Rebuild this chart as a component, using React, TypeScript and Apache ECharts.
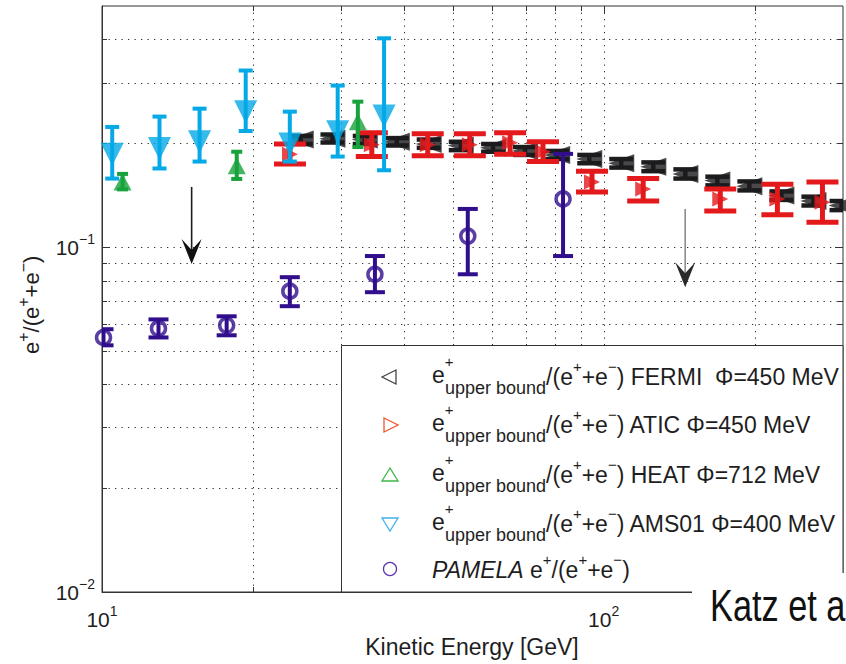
import React, { useEffect, useRef } from 'react';
import * as echarts from 'echarts';

const FONT = "'Liberation Sans', Arial, Helvetica, sans-serif";

// FERMI upper bound, Φ = 450 MeV
const fermiE = [24.9, 28.8, 33.4, 38.7, 44.8, 51.9, 60.2, 69.7, 80.8, 93.6, 108.4, 125.6, 145.5, 168.5, 195.2, 226.1, 261.9, 298];
const fermiR = [0.205, 0.206, 0.205, 0.202, 0.199, 0.197, 0.194, 0.19, 0.185, 0.18, 0.175, 0.171, 0.163, 0.156, 0.15, 0.141, 0.136, 0.132];
const fermiLo = [0.199, 0.201, 0.199, 0.197, 0.194, 0.191, 0.189, 0.185, 0.18, 0.175, 0.17, 0.166, 0.158, 0.151, 0.146, 0.137, 0.132, 0.128];
const fermiHi = [0.21, 0.212, 0.21, 0.207, 0.205, 0.202, 0.199, 0.195, 0.19, 0.185, 0.18, 0.176, 0.168, 0.16, 0.155, 0.145, 0.14, 0.136];

// ATIC upper bound, Φ = 450 MeV
const aticE = [23.7, 34.5, 44.6, 54.1, 65.1, 75.7, 94.8, 119.9, 170.8, 222, 273];
const aticR = [0.186, 0.198, 0.198, 0.198, 0.2006, 0.189, 0.1545, 0.1474, 0.1379, 0.1379, 0.135];
const aticLo = [0.174, 0.183, 0.184, 0.184, 0.186, 0.177, 0.1445, 0.136, 0.1273, 0.124, 0.118];
const aticHi = [0.199, 0.2145, 0.213, 0.213, 0.2145, 0.202, 0.166, 0.158, 0.1474, 0.152, 0.1545];

// HEAT upper bound, Φ = 712 MeV
const heatE = [10.99, 18.56, 32.36];
const heatR = [0.1545, 0.172, 0.231];
const heatLo = [0.147, 0.1576, 0.195];
const heatHi = [0.163, 0.189, 0.264];

// AMS01 upper bound, Φ = 400 MeV
const amsE = [10.48, 13.02, 15.65, 19.34, 23.68, 29.5, 36.5];
const amsR = [0.186, 0.193, 0.202, 0.247, 0.199, 0.216, 0.24];
const amsLo = [0.158, 0.169, 0.177, 0.217, 0.177, 0.183, 0.167];
const amsHi = [0.223, 0.239, 0.252, 0.325, 0.247, 0.294, 0.403];

// PAMELA e+/(e+ + e-)
const pamE = [10.07, 12.96, 17.72, 23.68, 35.0, 53.6, 83.0];
const pamR = [0.0547, 0.0581, 0.0593, 0.0745, 0.0834, 0.1076, 0.1379];
const pamLo = [0.0519, 0.0547, 0.0555, 0.0674, 0.074, 0.0834, 0.0942];
const pamHi = [0.0578, 0.0617, 0.063, 0.0818, 0.0942, 0.129, 0.1863];

// downward arrows (energy, start ratio, tip ratio)
const arrowE = [15.09, 145.4];
const arrowFrom = [0.1494, 0.129];
const arrowTo = [0.0893, 0.0765];
const arrowLineColor = ['#1e1e1e', '#8c8c8c'];
const arrowHeadColor = ['#111111', '#2a2a2a'];

// grid lines at minor decades
const gridX = [20, 30, 40, 50, 60, 70, 80, 90, 100, 200];
const gridY = [0.02, 0.03, 0.04, 0.05, 0.06, 0.07, 0.08, 0.09, 0.1, 0.2, 0.3, 0.4];
const majorX = [100];
const majorY = [0.1];

const legendNames = ['FERMI  Φ=450 MeV', 'ATIC Φ=450 MeV', 'HEAT Φ=712 MeV', 'AMS01 Φ=400 MeV'];

const C_FERMI = '#1c1c1e';
const C_ATIC = '#e3191c';
const C_HEAT = '#18a23c';
const C_AMS = '#04a9e6';
const C_PAM = '#310e8c';

const measureCtx = document.createElement('canvas').getContext('2d') as CanvasRenderingContext2D;
function measure(t: string, size: number, italic?: boolean) {
  measureCtx.font = `${italic ? 'italic ' : ''}${size}px ${FONT}`;
  return measureCtx.measureText(t).width;
}

type Seg = { t: string; size: number; dy?: number; italic?: boolean; at?: number };

// lays out a line of text pieces (with raised / lowered pieces) from x0 along baseline `base`
function textRun(segs: Seg[], x0: number, base: number, fill: string, z = 12) {
  const out: any[] = [];
  let x = x0;
  for (const s of segs) {
    const sx = s.at !== undefined ? x0 + s.at : x;
    const w = measure(s.t, s.size, s.italic);
    out.push({
      type: 'text',
      z,
      silent: true,
      style: {
        text: s.t,
        x: sx,
        y: base + (s.dy || 0) - 0.35 * s.size,
        fontSize: s.size,
        fontFamily: FONT,
        fontStyle: s.italic ? 'italic' : 'normal',
        fill,
        align: 'left',
        verticalAlign: 'middle',
      },
    });
    x = Math.max(x, sx + w);
  }
  return out;
}

function errorBars(name: string, E: number[], lo: number[], hi: number[], color: string, capW: number, lw: number, z: number) {
  return {
    type: 'custom',
    name: name + ' err',
    z,
    silent: true,
    clip: true,
    data: E.map((e, i) => [e, lo[i], hi[i]]),
    encode: { x: 0, y: [1, 2] },
    renderItem: (_p: any, api: any) => {
      const x = api.value(0);
      const a = api.coord([x, api.value(2)]);
      const b = api.coord([x, api.value(1)]);
      const style = { stroke: color, lineWidth: lw, fill: null };
      return {
        type: 'group',
        children: [
          { type: 'line', shape: { x1: a[0], y1: a[1], x2: b[0], y2: b[1] }, style },
          { type: 'line', shape: { x1: a[0] - capW / 2, y1: a[1], x2: a[0] + capW / 2, y2: a[1] }, style },
          { type: 'line', shape: { x1: b[0] - capW / 2, y1: b[1], x2: b[0] + capW / 2, y2: b[1] }, style },
        ],
      };
    },
  };
}

function markers(name: string, E: number[], R: number[], extra: any, z: number) {
  return {
    type: 'scatter',
    name,
    z,
    silent: true,
    data: E.map((e, i) => [e, R[i]]),
    ...extra,
  };
}

function buildOption() {
  const graphics: any[] = [];

  // legend box
  graphics.push({
    type: 'rect', z: 10, silent: true,
    shape: { x: 341.5, y: 345.5, width: 501.5, height: 246.5 },
    style: { fill: '#ffffff', stroke: '#333333', lineWidth: 1 },
  });
  const rows = [377, 425, 475, 524, 571];
  const symCols = ['#444444', '#ee5532', '#3cb54a', '#3fb2ea', '#5e33b4'];
  const sx = 390;
  graphics.push({ type: 'polygon', z: 11, silent: true, shape: { points: [[382, rows[0]], [396, rows[0] - 7], [396, rows[0] + 7]] }, style: { fill: 'none', stroke: symCols[0], lineWidth: 1.3 } });
  graphics.push({ type: 'polygon', z: 11, silent: true, shape: { points: [[384, rows[1] - 7], [384, rows[1] + 7], [398, rows[1]]] }, style: { fill: 'none', stroke: symCols[1], lineWidth: 1.3 } });
  graphics.push({ type: 'polygon', z: 11, silent: true, shape: { points: [[sx, rows[2] - 7], [sx - 8, rows[2] + 6], [sx + 8, rows[2] + 6]] }, style: { fill: 'none', stroke: symCols[2], lineWidth: 1.3 } });
  graphics.push({ type: 'polygon', z: 11, silent: true, shape: { points: [[sx - 8, rows[3] - 6], [sx + 8, rows[3] - 6], [sx, rows[3] + 7]] }, style: { fill: 'none', stroke: symCols[3], lineWidth: 1.3 } });
  graphics.push({ type: 'circle', z: 11, silent: true, shape: { cx: sx, cy: rows[4] - 2, r: 6.5 }, style: { fill: 'none', stroke: symCols[4], lineWidth: 1.3 } });

  const txt = '#1e1e1e';
  legendNames.forEach((nm, i) => {
    const base = rows[i] + 8;
    graphics.push(
      ...textRun(
        [
          { t: 'e', size: 23, dy: -2 },
          { t: '+', size: 15, dy: -18 },
          { t: 'upper bound', size: 18, dy: 9, at: 13 },
          { t: '/(e', size: 23 },
          { t: '+', size: 15, dy: -13 },
          { t: '+e', size: 23 },
          { t: '−', size: 15, dy: -13 },
          { t: ') ' + nm, size: 23 },
        ],
        432,
        base,
        txt,
      ),
    );
  });
  graphics.push(
    ...textRun(
      [
        { t: 'PAMELA', size: 23, italic: true },
        { t: ' e', size: 23 },
        { t: '+', size: 15, dy: -13 },
        { t: '/(e', size: 23 },
        { t: '+', size: 15, dy: -13 },
        { t: '+e', size: 23 },
        { t: '−', size: 15, dy: -13 },
        { t: ')', size: 23 },
      ],
      432,
      rows[4] + 7,
      txt,
    ),
  );

  // y axis title, rotated
  graphics.push({
    type: 'group',
    x: 39,
    y: 354,
    rotation: Math.PI / 2,
    z: 12,
    children: textRun(
      [
        { t: 'e', size: 22 },
        { t: '+', size: 16, dy: -10 },
        { t: '/(e', size: 22 },
        { t: '+', size: 16, dy: -10 },
        { t: '+e', size: 22 },
        { t: '−', size: 16, dy: -10 },
        { t: ')', size: 22 },
      ],
      0,
      0,
      txt,
    ),
  });

  // x axis title
  graphics.push({
    type: 'text', z: 12, silent: true,
    style: { text: 'Kinetic Energy [GeV]', x: 472, y: 647, fontSize: 23, fontFamily: FONT, fill: txt, align: 'center', verticalAlign: 'middle' },
  });

  // citation overlapping the lower right corner
  graphics.push({ type: 'rect', z: 20, silent: true, shape: { x: 692, y: 573, width: 160, height: 100 }, style: { fill: '#ffffff' } });
  graphics.push({
    type: 'text', z: 21, silent: true, x: 710, y: 605, scaleX: 0.78,
    style: { text: 'Katz et a', x: 0, y: 0, fontSize: 44, fontFamily: FONT, fill: '#111111', align: 'left', verticalAlign: 'middle' },
  });

  const tickFmt = (v: number) => {
    const l = Math.log10(v);
    const e = Math.round(l);
    if (Math.abs(l - e) > 1e-6) return '';
    return `{b|10}{s|${e < 0 ? '−' : ''}${Math.abs(e)}}`;
  };
  const rich = {
    b: { fontSize: 21, fontFamily: FONT, color: txt, lineHeight: 30 },
    s: { fontSize: 14, fontFamily: FONT, color: txt, lineHeight: 14, verticalAlign: 'top' },
  };

  const gridSeries = {
    type: 'custom',
    name: 'grid',
    z: 1,
    silent: true,
    clip: false,
    data: [...gridX.map((v) => [v, 0.1, 0]), ...gridY.map((v) => [20, v, 1])],
    encode: { x: 0, y: 1 },
    renderItem: (params: any, api: any) => {
      const cs = params.coordSys;
      const kind = api.value(2);
      const p = api.coord([api.value(0), api.value(1)]);
      const dot = { stroke: '#333333', lineWidth: 1, lineDash: [1.3, 5.2], fill: null };
      const tick = { stroke: '#333333', lineWidth: 1, fill: null };
      if (kind === 0) {
        const x = Math.round(p[0]) + 0.5;
        const t = majorX.includes(api.value(0)) ? 8 : 5;
        const b = cs.y + cs.height;
        return {
          type: 'group',
          children: [
            { type: 'line', shape: { x1: x, y1: cs.y, x2: x, y2: b }, style: dot },
            { type: 'line', shape: { x1: x, y1: b, x2: x, y2: b - t }, style: tick },
            { type: 'line', shape: { x1: x, y1: cs.y, x2: x, y2: cs.y + t }, style: tick },
          ],
        };
      }
      const y = Math.round(p[1]) + 0.5;
      const t = majorY.includes(api.value(1)) ? 8 : 5;
      const r = cs.x + cs.width;
      return {
        type: 'group',
        children: [
          { type: 'line', shape: { x1: cs.x, y1: y, x2: r, y2: y }, style: dot },
          { type: 'line', shape: { x1: cs.x, y1: y, x2: cs.x + t, y2: y }, style: tick },
          { type: 'line', shape: { x1: r, y1: y, x2: r - t, y2: y }, style: tick },
        ],
      };
    },
  };

  const arrowSeries = {
    type: 'custom',
    name: 'arrows',
    z: 8,
    silent: true,
    data: arrowE.map((e, i) => [e, arrowFrom[i], arrowTo[i], i]),
    encode: { x: 0, y: [1, 2] },
    renderItem: (_p: any, api: any) => {
      const i = api.value(3);
      const a = api.coord([api.value(0), api.value(1)]);
      const b = api.coord([api.value(0), api.value(2)]);
      return {
        type: 'group',
        children: [
          { type: 'line', shape: { x1: a[0], y1: a[1], x2: b[0], y2: b[1] - 12 }, style: { stroke: arrowLineColor[i], lineWidth: 1.6 } },
          {
            type: 'polygon',
            shape: { points: [[b[0], b[1]], [b[0] - 10, b[1] - 25], [b[0], b[1] - 14], [b[0] + 10, b[1] - 25]] },
            style: { fill: arrowHeadColor[i] },
          },
        ],
      };
    },
  };

  return {
    animation: false,
    backgroundColor: '#ffffff',
    grid: { left: 102, top: 6, right: 3, bottom: 72, show: true, borderColor: '#333333', borderWidth: 1, backgroundColor: 'transparent' },
    xAxis: {
      type: 'log',
      logBase: 10,
      min: 10,
      max: 300,
      axisLine: { show: true, lineStyle: { color: '#333333', width: 1 } },
      axisTick: { show: false },
      splitLine: { show: false },
      axisLabel: { formatter: tickFmt, rich, margin: 12, showMaxLabel: false },
    },
    yAxis: {
      type: 'log',
      logBase: 10,
      min: 0.01,
      max: 0.5,
      axisLine: { show: true, lineStyle: { color: '#333333', width: 1 } },
      axisTick: { show: false },
      splitLine: { show: false },
      axisLabel: { formatter: tickFmt, rich, margin: 7, showMaxLabel: false },
    },
    graphic: { elements: graphics },
    series: [
      gridSeries,
      errorBars('FERMI', fermiE, fermiLo, fermiHi, C_FERMI, 24, 4.5, 3),
      markers('FERMI', fermiE, fermiR, { symbol: 'triangle', symbolRotate: 90, symbolSize: [18, 26], itemStyle: { color: C_FERMI } }, 3),
      errorBars('ATIC', aticE, aticLo, aticHi, C_ATIC, 32, 5, 4),
      markers('ATIC', aticE, aticR, { symbol: 'triangle', symbolRotate: -90, symbolSize: [15, 16], itemStyle: { color: C_ATIC } }, 4),
      errorBars('HEAT', heatE, heatLo, heatHi, C_HEAT, 11, 4, 5),
      markers('HEAT', heatE, heatR, { symbol: 'triangle', symbolSize: [18, 17], itemStyle: { color: C_HEAT } }, 5),
      errorBars('AMS01', amsE, amsLo, amsHi, C_AMS, 14, 4, 6),
      markers('AMS01', amsE, amsR, { symbol: 'triangle', symbolRotate: 180, symbolSize: [23, 23], itemStyle: { color: C_AMS } }, 6),
      errorBars('PAMELA', pamE, pamLo, pamHi, C_PAM, 20, 4, 7),
      markers('PAMELA', pamE, pamR, { symbol: 'circle', symbolSize: 14, itemStyle: { color: 'rgba(0,0,0,0)', borderColor: C_PAM, borderWidth: 3.5 } }, 7),
      arrowSeries,
    ],
  };
}

export default function App() {
  const ref = useRef<HTMLDivElement>(null);
  useEffect(() => {
    document.body.style.margin = '0';
    const chart = echarts.init(ref.current as HTMLDivElement, undefined, { renderer: 'svg' });
    chart.setOption(buildOption() as any);
    return () => chart.dispose();
  }, []);
  return <div ref={ref} style={{ width: 846, height: 664, background: '#ffffff' }} />;
}
